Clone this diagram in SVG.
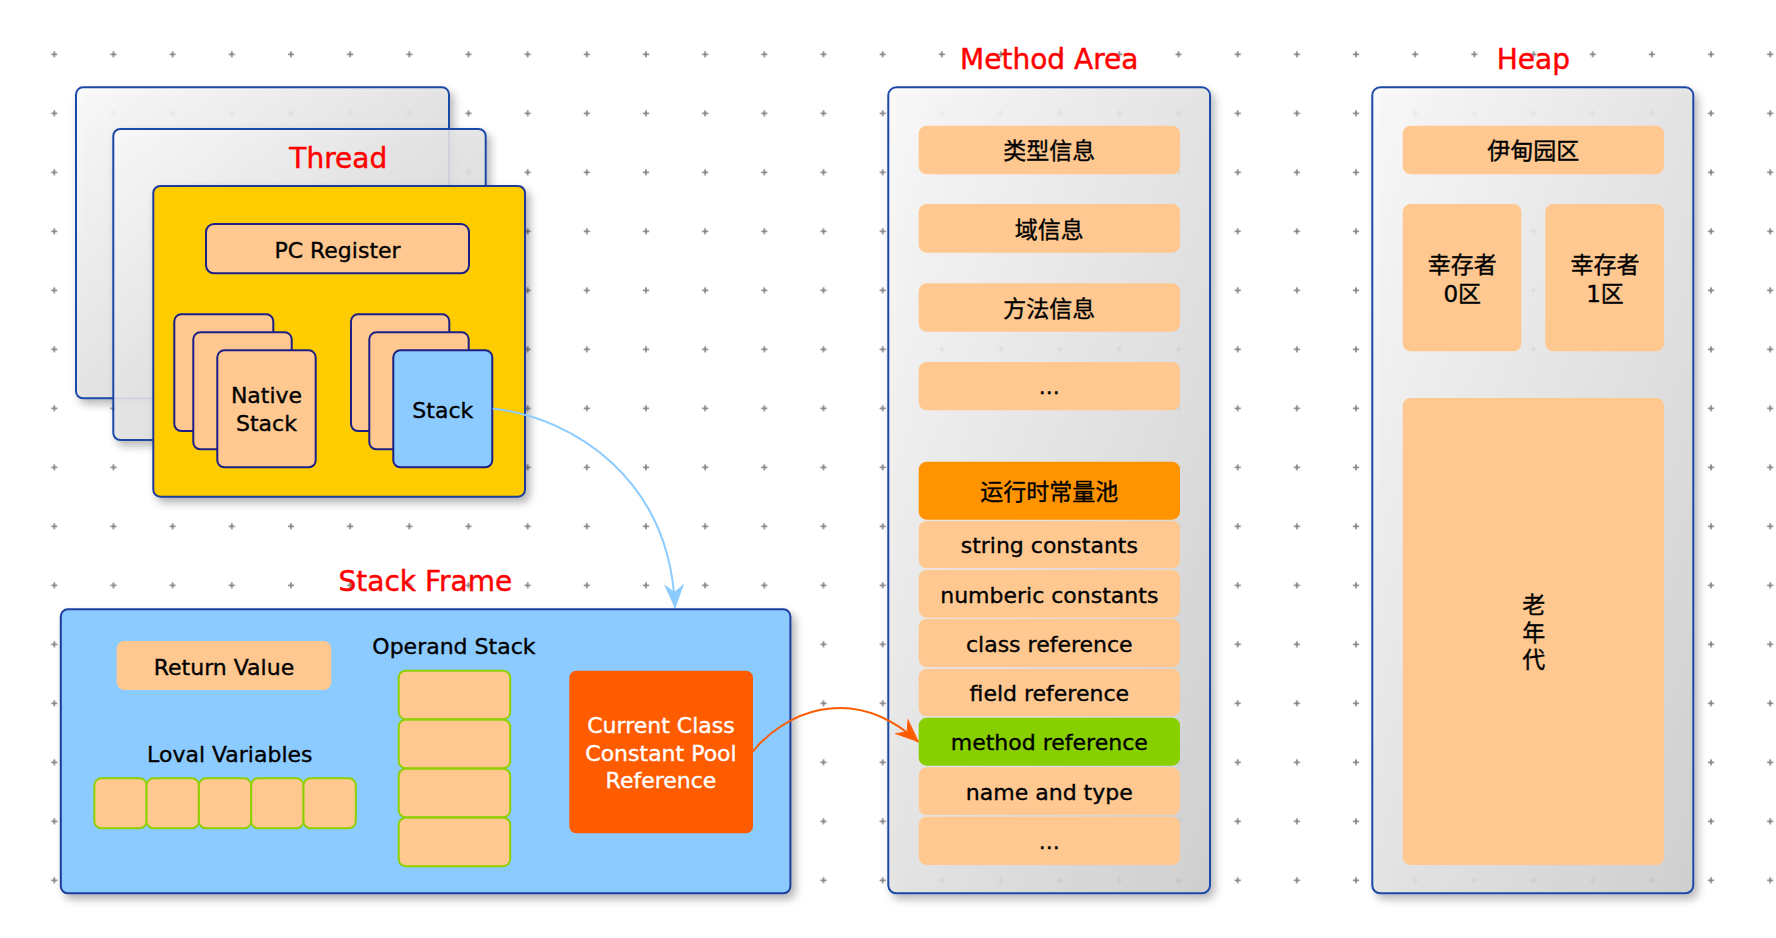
<svg xmlns="http://www.w3.org/2000/svg" width="1776" height="938" viewBox="0 0 1776 938">
<style>
.t{font-family:"DejaVu Sans","Noto Sans CJK SC",sans-serif;font-size:22px;fill:#000;stroke:#000;stroke-width:0.35;text-anchor:middle}
.cjk{font-family:"DejaVu Sans","Noto Sans CJK SC",sans-serif;font-size:23px}
.title{font-size:28px;fill:#ff0000;stroke:#ff0000;stroke-width:0.45}
.white{fill:#fff;stroke:#fff}
.panel{fill:url(#gray);fill-opacity:0.88;stroke:#1d4aa8;stroke-width:2;filter:url(#sh)}
.card{fill:#ffc890;stroke:#1b1f86;stroke-width:2}
.peach{fill:#ffc890}
.cell{fill:#ffc890;stroke:#8fd000;stroke-width:2}
.conn{fill:none;stroke-width:2}
</style>
<defs>
<pattern id="grid" patternUnits="userSpaceOnUse" x="24.7" y="24.8" width="59.17" height="59.0">
<path d="M26.5,29.5H32.7M29.6,26.4V32.6" stroke="#808080" stroke-width="1.6"/>
</pattern>
<linearGradient id="gray" x1="0" y1="0" x2="1" y2="1">
<stop offset="0" stop-color="#fbfbfb"/>
<stop offset="1" stop-color="#cdcdcd"/>
</linearGradient>
<filter id="sh" x="-10%" y="-10%" width="130%" height="130%">
<feDropShadow dx="4" dy="5" stdDeviation="4" flood-color="#000" flood-opacity="0.3"/>
</filter>
<marker id="arrowBlue" markerUnits="userSpaceOnUse" orient="auto" refX="0" refY="0" markerWidth="30" markerHeight="30" overflow="visible">
<path d="M0,0 L-22,-9 L-15,0 L-22,9 Z" fill="#8ccbff" stroke="#8ccbff" stroke-width="1"/>
</marker>
<marker id="arrowOrange" markerUnits="userSpaceOnUse" orient="auto" refX="0" refY="0" markerWidth="30" markerHeight="30" overflow="visible">
<path d="M0,0 L-22,-9 L-15,0 L-22,9 Z" fill="#ff5c00" stroke="#ff5c00" stroke-width="1"/>
</marker>
</defs>

<rect width="1776" height="938" fill="#ffffff"/>
<rect width="1776" height="920" fill="url(#grid)"/>

<g id="thread">
<rect class="panel" x="76" y="87.3" width="373" height="311" rx="7"/>
<rect class="panel" x="113.3" y="129" width="372.4" height="311" rx="7"/>
<text class="t title" x="338.3" y="168.3">Thread</text>
<rect x="153.3" y="186" width="371.7" height="310.7" rx="7" fill="#ffcc00" stroke="#1a3a9a" stroke-width="2" filter="url(#sh)"/>
</g>

<g id="pc-register">
<rect class="card" x="206" y="224" width="263" height="49.3" rx="8"/>
<text class="t" x="337.5" y="258">PC Register</text>
</g>

<g id="native-stack">
<rect class="card" x="174.3" y="314.3" width="99" height="116.7" rx="7"/>
<rect class="card" x="193.3" y="332.3" width="98.4" height="117" rx="7"/>
<rect class="card" x="217.3" y="350.3" width="98.4" height="117" rx="7"/>
<text class="t" x="266.5" y="403.3">Native</text>
<text class="t" x="266.5" y="431">Stack</text>
</g>

<g id="stack">
<rect class="card" x="351" y="314.3" width="98.3" height="116.7" rx="7"/>
<rect class="card" x="369.3" y="332.3" width="99.4" height="117" rx="7"/>
<rect x="393.3" y="350.3" width="99" height="117" rx="7" fill="#8ccbff" stroke="#1b1f86" stroke-width="2"/>
<text class="t" x="442.8" y="417.7">Stack</text>
</g>

<g id="stack-frame">
<text class="t title" x="425.4" y="590.7">Stack Frame</text>
<rect x="60.8" y="609.3" width="729.6" height="284" rx="7" fill="#8ccbff" stroke="#1a3d9c" stroke-width="2" filter="url(#sh)"/>
</g>

<g id="return-value">
<rect class="peach" x="116.6" y="641" width="214.7" height="49" rx="8"/>
<text class="t" x="224" y="674.5">Return Value</text>
</g>

<g id="local-variables">
<text class="t" x="229.8" y="762.3">Loval Variables</text>
<rect class="cell" x="94.3" y="778.3" width="52.3" height="50" rx="7"/>
<rect class="cell" x="146.6" y="778.3" width="52.3" height="50" rx="7"/>
<rect class="cell" x="198.9" y="778.3" width="52.3" height="50" rx="7"/>
<rect class="cell" x="251.2" y="778.3" width="52.3" height="50" rx="7"/>
<rect class="cell" x="303.5" y="778.3" width="52.3" height="50" rx="7"/>
</g>

<g id="operand-stack">
<text class="t" x="453.9" y="654.3">Operand Stack</text>
<rect class="cell" x="398.7" y="670.7" width="111.5" height="48.5" rx="7"/>
<rect class="cell" x="398.7" y="719.7" width="111.5" height="48.5" rx="7"/>
<rect class="cell" x="398.7" y="768.7" width="111.5" height="48.5" rx="7"/>
<rect class="cell" x="398.7" y="817.7" width="111.5" height="48.5" rx="7"/>
</g>

<g id="constant-pool-ref">
<rect x="569.3" y="670.7" width="183.7" height="162.6" rx="7" fill="#ff5c00"/>
<text class="t white" x="661" y="732.7">Current Class</text>
<text class="t white" x="661" y="760.7">Constant Pool</text>
<text class="t white" x="661" y="788.3">Reference</text>
</g>

<g id="method-area">
<text class="t title" x="1049.3" y="69.3">Method Area</text>
<rect class="panel" x="888.3" y="87.3" width="321.7" height="806" rx="8"/>
<rect class="peach" x="918.7" y="125.7" width="261.3" height="48.6" rx="8"/>
<text class="t cjk" x="1049.3" y="159">类型信息</text>
<rect class="peach" x="918.7" y="204" width="261.3" height="48.7" rx="8"/>
<text class="t cjk" x="1049.3" y="237.5">域信息</text>
<rect class="peach" x="918.7" y="283.3" width="261.3" height="48.4" rx="8"/>
<text class="t cjk" x="1049.3" y="316.5">方法信息</text>
<rect class="peach" x="918.7" y="362" width="261.3" height="48.3" rx="8"/>
<text class="t" x="1049.3" y="394">...</text>
</g>

<g id="runtime-constant-pool">
<rect x="918.7" y="461.7" width="261.3" height="58" rx="8" fill="#ff9400"/>
<text class="t cjk" x="1049.3" y="500">运行时常量池</text>
<rect class="peach" x="918.7" y="521" width="261.3" height="47.3" rx="8"/>
<text class="t" x="1049.3" y="553.3">string constants</text>
<rect class="peach" x="918.7" y="570" width="261.3" height="47.7" rx="8"/>
<text class="t" x="1049.3" y="602.7">numberic constants</text>
<rect class="peach" x="918.7" y="619" width="261.3" height="48" rx="8"/>
<text class="t" x="1049.3" y="651.7">class reference</text>
<rect class="peach" x="918.7" y="668.7" width="261.3" height="47.6" rx="8"/>
<text class="t" x="1049.3" y="701">field reference</text>
<rect x="918.7" y="717.7" width="261.3" height="48" rx="8" fill="#88cf00"/>
<text class="t" x="1049.3" y="750">method reference</text>
<rect class="peach" x="918.7" y="767.3" width="261.3" height="47.7" rx="8"/>
<text class="t" x="1049.3" y="800">name and type</text>
<rect class="peach" x="918.7" y="816.7" width="261.3" height="48.3" rx="8"/>
<text class="t" x="1049.3" y="849">...</text>
</g>

<g id="heap">
<text class="t title" x="1533.3" y="69.3">Heap</text>
<rect class="panel" x="1372.3" y="87.3" width="321" height="806" rx="8"/>
<rect class="peach" x="1402.7" y="125.7" width="261.3" height="48.6" rx="8"/>
<text class="t cjk" x="1533.3" y="159">伊甸园区</text>
<rect class="peach" x="1402.7" y="204" width="118.6" height="147.3" rx="8"/>
<text class="t cjk" x="1462.3" y="273.3">幸存者</text>
<text class="t cjk" x="1462.3" y="301.7">0区</text>
<rect class="peach" x="1545.3" y="204" width="118.7" height="147.3" rx="8"/>
<text class="t cjk" x="1605" y="273.3">幸存者</text>
<text class="t cjk" x="1605" y="301.7">1区</text>
<rect class="peach" x="1402.7" y="398" width="261.3" height="467" rx="8"/>
<text class="t cjk" x="1533.7" y="613">老</text>
<text class="t cjk" x="1533.7" y="640.5">年</text>
<text class="t cjk" x="1533.7" y="668">代</text>
</g>

<g id="connectors">
<path class="conn" d="M492.7,408.5 C575,418 670,480 675,607.5" stroke="#8ccbff" marker-end="url(#arrowBlue)"/>
<path class="conn" d="M752.7,751.7 C782,715 850,680 918.3,741.7" stroke="#ff5c00" marker-end="url(#arrowOrange)"/>
</g>
</svg>
